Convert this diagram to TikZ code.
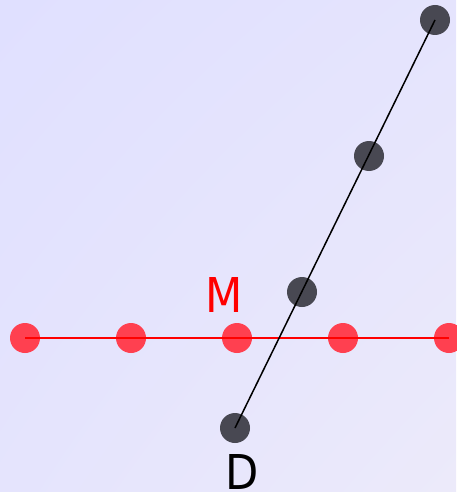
\documentclass[tikz,border=0pt]{standalone}
\usepackage{fontspec}
\setmainfont{DejaVu Sans Condensed}
\usetikzlibrary{shadings}
\definecolor{bgA}{RGB}{224,224,255}
\definecolor{bgB}{RGB}{236,234,250}
\definecolor{reddot}{RGB}{255,64,80}
\definecolor{darkdot}{RGB}{72,72,82}
\begin{document}
\begin{tikzpicture}[x=1pt,y=-1pt,
  rdot/.style={circle,fill=reddot,inner sep=0pt,minimum size=30pt},
  ddot/.style={circle,fill=darkdot,inner sep=0pt,minimum size=30pt},
  lbl/.style={font=\fontsize{48}{48}\selectfont,inner sep=0pt}]
\useasboundingbox (0,0) rectangle (456,492);
\shade[upper left=bgA,upper right=bgA!60!bgB,lower left=bgA!60!bgB,lower right=bgB] (0,0) rectangle (456,492);
\node[rdot] (r1) at (25,338) {};
\node[rdot] (r2) at (131,338) {};
\node[rdot] (r3) at (237,338) {};
\node[rdot] (r4) at (343,338) {};
\node[rdot] (r5) at (449,338) {};
\node[ddot] (d1) at (235,428) {};
\node[ddot] (d2) at (302,292) {};
\node[ddot] (d3) at (369,156) {};
\node[ddot] (d4) at (435,20) {};
\draw[red,line width=1.5pt] (r1.center) -- (r5.center);
\draw[black,line width=1.5pt] (d1.center) -- (d4.center);
\node[lbl,text=red] (M) at (224,295) {M};
\node[lbl,text=black] (D) at (242,472) {D};
\end{tikzpicture}
\end{document}
